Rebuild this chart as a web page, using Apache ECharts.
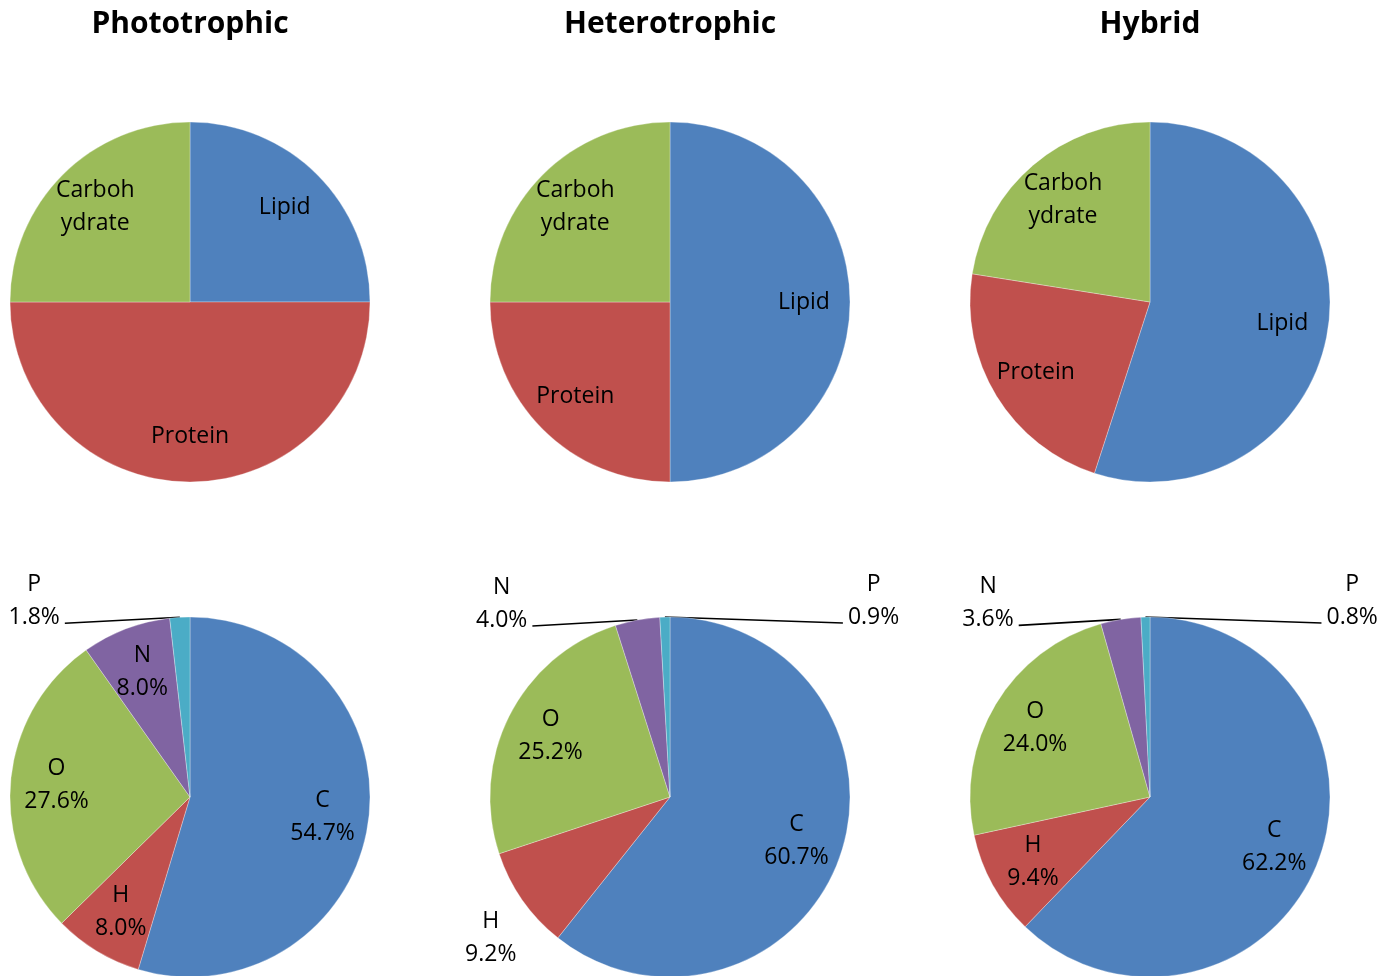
<!DOCTYPE html>
<html>
<head>
<meta charset="utf-8">
<script src="https://cdn.jsdelivr.net/npm/echarts@6/dist/echarts.min.js"></script>
<style>
  html, body { margin: 0; padding: 0; background: #ffffff; }
  #chart { width: 1395px; height: 976px; }
</style>
</head>
<body>
<div id="chart"></div>
<script>
// Panel titles (one column per cultivation mode)
const modes = ['Phototrophic', 'Heterotrophic', 'Hybrid'];

// Biochemical composition (%)
const compClasses = ['Lipid', 'Protein', 'Carbohydrate'];
const compPhototrophic = [25, 50, 25];
const compHeterotrophic = [50, 25, 25];
const compHybrid = [55, 22.5, 22.5];

// Elemental composition (%)
const elements = ['C', 'H', 'O', 'N', 'P'];
const elemPhototrophic = [54.7, 8.0, 27.6, 8.0, 1.8];
const elemHeterotrophic = [60.7, 9.2, 25.2, 4.0, 0.9];
const elemHybrid = [62.2, 9.4, 24.0, 3.6, 0.8];

const compByMode = [compPhototrophic, compHeterotrophic, compHybrid];
const elemByMode = [elemPhototrophic, elemHeterotrophic, elemHybrid];

const compColors = ['#4F81BD', '#C0504D', '#9BBB59'];
const elemColors = ['#4F81BD', '#C0504D', '#9BBB59', '#8064A2', '#4BACC6'];

const FONT = '"Open Sans", "Noto Sans", sans-serif';
const colX = [190, 670, 1150];
const rowY = [302, 797];
const R = 180;
const LABEL_RING = 82; // inner radius of the label ring: puts inside labels ~0.75 R out

// Small slices whose labels sit outside, with a leader line (side: -1 left, +1 right)
const outsideLabels = [
  { P: { side: -1, reach: 115 } },
  { H: { below: true }, N: { side: -1, reach: 105 }, P: { side: 1, reach: 178 } },
  { N: { side: -1, reach: 102 }, P: { side: 1, reach: 176 } }
];

function wrapName(name) {
  if (name.length <= 8) return name;
  const parts = [];
  for (let i = 0; i < name.length; i += 6) parts.push(name.slice(i, i + 6));
  return parts.join('\n');
}

const rich = {
  c: { fontFamily: FONT, fontSize: 23, lineHeight: 33, color: '#000', align: 'center' }
};

function richLines(lines) {
  return lines.map(s => '{c|' + s + '}').join('\n');
}

function basePie(cx, cy, names, values, colors) {
  return {
    type: 'pie',
    center: [cx, cy],
    radius: [0, R],
    startAngle: 90,
    clockwise: true,
    silent: true,
    avoidLabelOverlap: false,
    label: { show: false },
    labelLine: { show: false },
    itemStyle: { borderColor: 'rgba(255,255,255,0.6)', borderWidth: 0.5 },
    data: values.map((v, k) => ({ name: names[k], value: v, itemStyle: { color: colors[k] } }))
  };
}

function labelPie(cx, cy, names, values, formatter, outside) {
  return {
    type: 'pie',
    center: [cx, cy],
    radius: [LABEL_RING, R],
    startAngle: 90,
    clockwise: true,
    silent: true,
    avoidLabelOverlap: false,
    itemStyle: { color: 'rgba(0,0,0,0)', borderWidth: 0 },
    label: {
      show: true,
      position: 'inside',
      color: '#000',
      formatter: formatter,
      rich: rich
    },
    labelLine: { show: false, length: 4, length2: 4, lineStyle: { color: '#000', width: 1.6 } },
    labelLayout: function (params) {
      const name = names[params.dataIndex];
      const spec = outside && outside[name];
      if (!spec || !params.labelLinePoints) return {};
      const p0 = params.labelLinePoints[0];
      if (spec.below) {
        return {
          x: p0[0] - 6, y: p0[1] + 38, align: 'right', verticalAlign: 'middle',
          labelLinePoints: [p0, p0, p0]
        };
      }
      const end = [p0[0] + spec.side * spec.reach, p0[1] + 6];
      return {
        x: end[0] + spec.side * 5,
        y: end[1] - 22,
        align: spec.side < 0 ? 'right' : 'left',
        verticalAlign: 'middle',
        labelLinePoints: [p0, p0, end]
      };
    },
    data: values.map((v, k) => {
      const item = { name: names[k], value: v };
      if (outside && outside[names[k]]) {
        item.label = { position: 'outside' };
        item.labelLine = { show: true };
      }
      return item;
    })
  };
}

const series = [];
modes.forEach((mode, i) => {
  series.push(basePie(colX[i], rowY[0], compClasses, compByMode[i], compColors));
  series.push(labelPie(colX[i], rowY[0], compClasses, compByMode[i],
    p => richLines(wrapName(p.name).split('\n')), null));
  series.push(basePie(colX[i], rowY[1], elements, elemByMode[i], elemColors));
  series.push(labelPie(colX[i], rowY[1], elements, elemByMode[i],
    p => richLines([p.name, p.value.toFixed(1) + '%']), outsideLabels[i]));
});

const chart = echarts.init(document.getElementById('chart'), null, { renderer: 'canvas' });
chart.setOption({
  animation: false,
  backgroundColor: '#ffffff',
  title: modes.map((m, i) => ({
    text: m,
    left: colX[i],
    top: 9,
    padding: 0,
    textAlign: 'center',
    textStyle: { fontFamily: FONT, fontSize: 30, fontWeight: 'bold', color: '#000' }
  })),
  series: series
});
</script>
</body>
</html>
